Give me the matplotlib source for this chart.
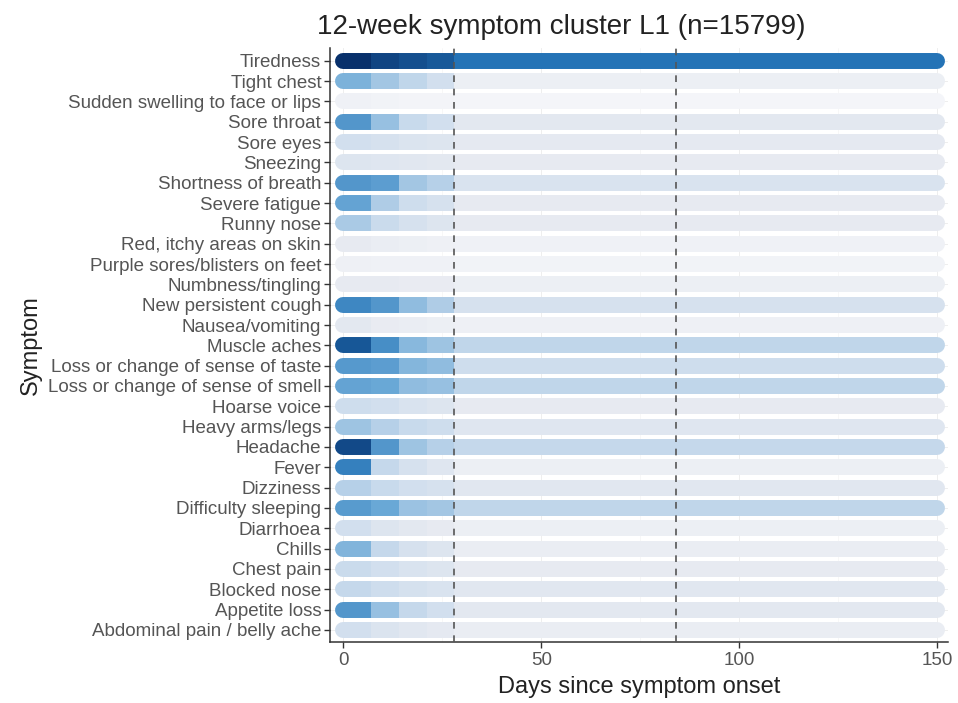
import numpy as np
import matplotlib.pyplot as plt
from matplotlib.colors import LinearSegmentedColormap

plt.rcParams['font.family'] = ['Liberation Sans', 'DejaVu Sans']

# symptoms listed top to bottom
symptoms = [
    'Tiredness', 'Tight chest', 'Sudden swelling to face or lips', 'Sore throat',
    'Sore eyes', 'Sneezing', 'Shortness of breath', 'Severe fatigue', 'Runny nose',
    'Red, itchy areas on skin', 'Purple sores/blisters on feet', 'Numbness/tingling',
    'New persistent cough', 'Nausea/vomiting', 'Muscle aches',
    'Loss or change of sense of taste', 'Loss or change of sense of smell',
    'Hoarse voice', 'Heavy arms/legs', 'Headache', 'Fever', 'Dizziness',
    'Difficulty sleeping', 'Diarrhoea', 'Chills', 'Chest pain', 'Blocked nose',
    'Appetite loss', 'Abdominal pain / belly ache',
]

# time windows (days since onset): weeks 1-4, then the rest of follow-up
edges = [0, 7, 14, 21, 28, 150]

# proportion reporting each symptom in each window
wk1 = [1.00, 0.45, 0.05, 0.58, 0.20, 0.15, 0.58, 0.52, 0.33, 0.10, 0.06, 0.10, 0.65, 0.12, 0.85,
       0.57, 0.52, 0.22, 0.36, 0.90, 0.68, 0.30, 0.56, 0.20, 0.44, 0.24, 0.26, 0.58, 0.20]
wk2 = [0.92, 0.35, 0.04, 0.38, 0.18, 0.14, 0.55, 0.32, 0.24, 0.08, 0.05, 0.10, 0.58, 0.09, 0.62,
       0.55, 0.50, 0.20, 0.30, 0.58, 0.26, 0.25, 0.50, 0.15, 0.26, 0.20, 0.22, 0.38, 0.16]
wk3 = [0.88, 0.27, 0.03, 0.25, 0.16, 0.13, 0.35, 0.22, 0.18, 0.07, 0.05, 0.09, 0.40, 0.08, 0.42,
       0.43, 0.40, 0.17, 0.25, 0.36, 0.18, 0.20, 0.37, 0.12, 0.18, 0.17, 0.19, 0.26, 0.13]
wk4 = [0.84, 0.20, 0.03, 0.20, 0.15, 0.12, 0.30, 0.18, 0.15, 0.06, 0.05, 0.09, 0.32, 0.07, 0.36,
       0.40, 0.38, 0.15, 0.22, 0.30, 0.14, 0.18, 0.35, 0.10, 0.15, 0.15, 0.17, 0.20, 0.11]
later = [0.74, 0.07, 0.02, 0.12, 0.11, 0.10, 0.17, 0.10, 0.10, 0.05, 0.04, 0.07, 0.18, 0.06, 0.27,
         0.22, 0.27, 0.10, 0.14, 0.26, 0.07, 0.13, 0.27, 0.07, 0.08, 0.10, 0.13, 0.12, 0.08]

windows = [wk1, wk2, wk3, wk4, later]
vlines = [28, 84]

cmap = LinearSegmentedColormap.from_list(
    'sym', [(0, '#f7f8fb'), (0.1, '#e7eaf1'), (0.25, '#c8daec'),
            (0.5, '#6aa8d6'), (0.75, '#2171b5'), (1.0, '#08306b')])

fig = plt.figure(figsize=(9.58, 7.03), dpi=100)
ax = fig.add_axes([0.344, 0.087, 0.646, 0.845])

n = len(symptoms)
lw = 11.5
for i, name in enumerate(symptoms):
    y = n - 1 - i
    nseg = len(windows)
    for k in range(nseg):
        c = cmap(windows[k][i])
        x0, x1 = edges[k], edges[k + 1]
        if k == 0 or k == nseg - 1:
            # rounded outer ends sit underneath the butt-capped inner segments
            ax.plot([x0, x1], [y, y], color=c, lw=lw, solid_capstyle='round', zorder=2)
        else:
            ax.plot([x0, x1], [y, y], color=c, lw=lw, solid_capstyle='butt', zorder=3)

for d in vlines:
    ax.axvline(d, color='#555555', lw=1.2, ls=(0, (4, 4)), zorder=4)

ax.set_xlim(-3.5, 152.8)
ax.set_ylim(-0.59, n - 1 + 0.64)
ax.set_yticks(np.arange(n))
ax.set_yticklabels(symptoms[::-1])
ax.set_xticks([0, 50, 100, 150])
ax.set_xticks([25, 75, 125], minor=True)
ax.grid(True, which='major', color='#ebebeb', lw=0.6, zorder=0)
ax.grid(True, which='minor', axis='x', color='#f2f2f2', lw=0.4, zorder=0)
ax.set_axisbelow(True)
ax.tick_params(axis='both', which='major', labelsize=13.5, labelcolor='#555555',
               color='#333333', length=4, width=1)
ax.tick_params(axis='y', pad=2)
ax.tick_params(axis='x', which='minor', length=0)
for s in ['top', 'right']:
    ax.spines[s].set_visible(False)
for s in ['left', 'bottom']:
    ax.spines[s].set_color('#333333')
    ax.spines[s].set_linewidth(1.1)

ax.set_xlabel('Days since symptom onset', fontsize=17, color='#222222', labelpad=5)
ax.set_ylabel('Symptom', fontsize=17, color='#222222', labelpad=4)
ax.set_title('12-week symptom cluster L1 (n=15799)', fontsize=20, color='#222222',
             loc='left', x=-0.02, pad=10)

fig.savefig('out.png', dpi=100)
